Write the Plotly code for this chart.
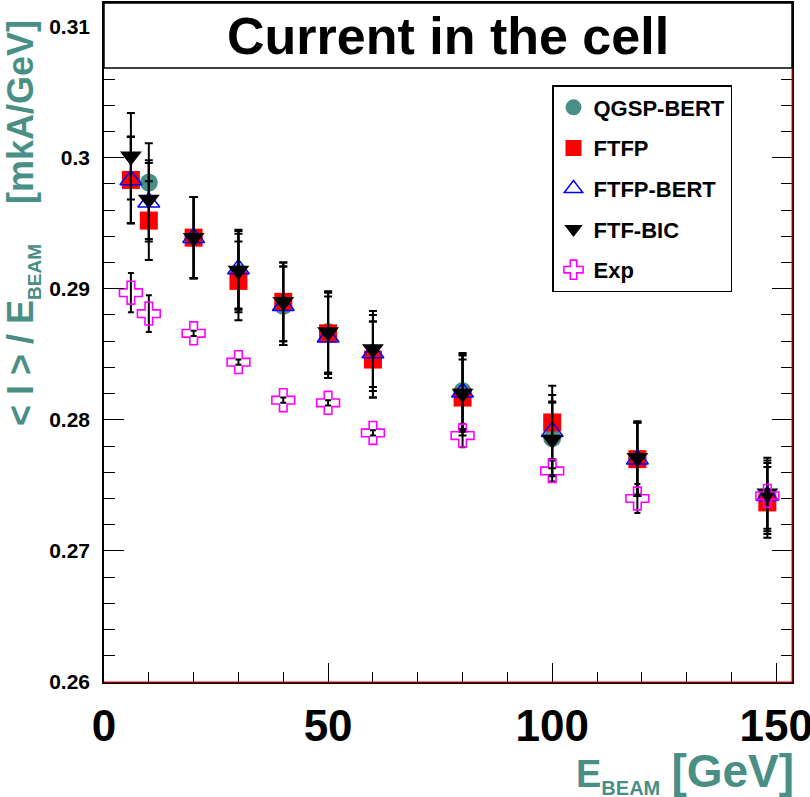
import plotly.graph_objects as go

# ---------------- data ----------------
energy = [6, 10, 20, 30, 40, 50, 60, 80, 100, 119, 148]

qgsp_bert = [0.2983, 0.2981, 0.2939, 0.2912, 0.2887, 0.2867, 0.2846, 0.2822, 0.2786, 0.2770, 0.2740]
ftfp      = [0.2983, 0.2952, 0.2939, 0.2906, 0.2890, 0.2866, 0.2846, 0.2817, 0.2798, 0.2770, 0.2737]
ftfp_bert = [0.2983, 0.2966, 0.2939, 0.2915, 0.2887, 0.2863, 0.2851, 0.2821, 0.2791, 0.2770, 0.2742]
ftf_bic   = [0.3001, 0.2968, 0.2939, 0.2914, 0.2890, 0.2867, 0.2854, 0.2820, 0.2785, 0.2771, 0.2744]
exp_data  = [0.2897, 0.2881, 0.2866, 0.2844, 0.2815, 0.2813, 0.2790, 0.2788, 0.2761, 0.2740, 0.2742]

mc_err  = [0.0033, 0.0030, 0.0031, 0.0030, 0.0030, 0.0031, 0.0029, 0.0029, 0.0028, 0.0028, 0.0027]
exp_err = [0.0015, 0.0014, 0.0002, 0.0002, 0.0002, 0.0002, 0.0002, 0.0009, 0.0008, 0.0011, 0.0002]

series_names = ["QGSP-BERT", "FTFP", "FTFP-BERT", "FTF-BIC", "Exp"]

x_range = [0, 153.5]
y_range = [0.26, 0.3118]

TEAL = "#4a8f86"
FONT = "Liberation Sans, Arial, sans-serif"

# ---------------- geometry ----------------
W, H = 810, 797
L, R, T, B = 104, 18, 3, 115
PW, PH = W - L - R, H - T - B


def px_x(p):
    return (p - L) / PW


def px_y(p):
    return (H - B - p) / PH


fig = go.Figure()

styles = [
    dict(symbol="circle", color=TEAL, size=18, line=dict(width=0)),
    dict(symbol="square", color="#ff0000", size=18, line=dict(width=0)),
    dict(symbol="triangle-up-open", color="#0000ff", size=19, line=dict(width=1.5, color="#0000ff")),
    dict(symbol="triangle-down", color="black", size=19, line=dict(width=0)),
    dict(symbol="cross-open", color="#ff00ff", size=19, line=dict(width=1.6, color="#ff00ff")),
]
values = [qgsp_bert, ftfp, ftfp_bert, ftf_bic, exp_data]
errs = [mc_err, mc_err, mc_err, mc_err, exp_err]

for i, (name, vals, err, st) in enumerate(zip(series_names, values, errs, styles)):
    fig.add_trace(go.Scatter(
        x=energy, y=vals, mode="markers", name=name,
        legendgroup=name,
        marker=st,
        error_y=dict(type="data", array=err, color="black", thickness=2,
                     width=4 if i < 4 else 3),
    ))

axis_common = dict(
    showgrid=False, zeroline=False, showline=True, linecolor="black", linewidth=1.5,
    mirror="allticks", ticks="inside", tickcolor="black", tickwidth=1,
)

fig.update_layout(
    width=W, height=H,
    margin=dict(l=L, r=R, t=T, b=B, pad=0, autoexpand=False),
    paper_bgcolor="white", plot_bgcolor="white",
    font=dict(family=FONT, color="black"),
    showlegend=True,
    legend=dict(
        x=px_x(552), y=px_y(85), xanchor="left", yanchor="top",
        bgcolor="white", bordercolor="black", borderwidth=1.5,
        font=dict(family=FONT, size=22, color="black", weight="bold"),
        traceorder="grouped", tracegroupgap=9,
        entrywidth=162, entrywidthmode="pixels",
    ),
    xaxis=dict(
        range=x_range, tick0=0, dtick=50, ticklen=19,
        minor=dict(dtick=10, ticks="inside", ticklen=10, tickcolor="black"),
        tickfont=dict(family=FONT, size=44, weight="bold"),
        ticklabelstandoff=4, ticklabeloverflow="allow",
        **axis_common,
    ),
    yaxis=dict(
        range=y_range, tick0=0.26, dtick=0.01, ticklen=20,
        minor=dict(dtick=0.002, ticks="inside", ticklen=11, tickcolor="black"),
        tickfont=dict(family=FONT, size=21, weight="bold"),
        ticklabelstandoff=8,
        **axis_common,
    ),
)

# title box covering top of frame
fig.add_shape(type="rect", xref="paper", yref="paper", x0=0, x1=1, y0=px_y(68), y1=1,
              fillcolor="white", line=dict(color="black", width=1.5), layer="above")
# red frame lines (bottom and right)
fig.add_shape(type="line", xref="paper", yref="paper", x0=0, x1=1, y0=0, y1=0,
              line=dict(color="#ff0000", width=1), layer="above")
fig.add_shape(type="line", xref="paper", yref="paper", x0=1, x1=1, y0=0, y1=px_y(68),
              line=dict(color="#ff0000", width=1), layer="above")

fig.add_annotation(
    text="<b>Current in the cell</b>", xref="paper", yref="paper",
    x=0.5, y=px_y(36), xanchor="center", yanchor="middle", showarrow=False,
    font=dict(family=FONT, size=52, color="black"),
)

fig.add_annotation(
    text=("<b>&lt; I &gt; / E<sub><span style='font-size:19px'>BEAM</span></sub>"
          "&nbsp;&nbsp;&nbsp;&nbsp;[mkA/GeV]</b>"),
    xref="paper", yref="paper", x=px_x(22), y=px_y(18),
    xanchor="center", yanchor="top", textangle=-90, showarrow=False,
    font=dict(family=FONT, size=36, color=TEAL),
)

fig.add_annotation(
    text=("<b><span style='font-size:38px'>E</span><sub><span style='font-size:20px'>BEAM</span></sub>"
          "&nbsp;<span style='font-size:46px'>[GeV]</span></b>"),
    xref="paper", yref="paper", x=px_x(796), y=px_y(772),
    xanchor="right", yanchor="middle", showarrow=False,
    font=dict(family=FONT, size=40, color=TEAL),
)

fig.write_html("out.html")
